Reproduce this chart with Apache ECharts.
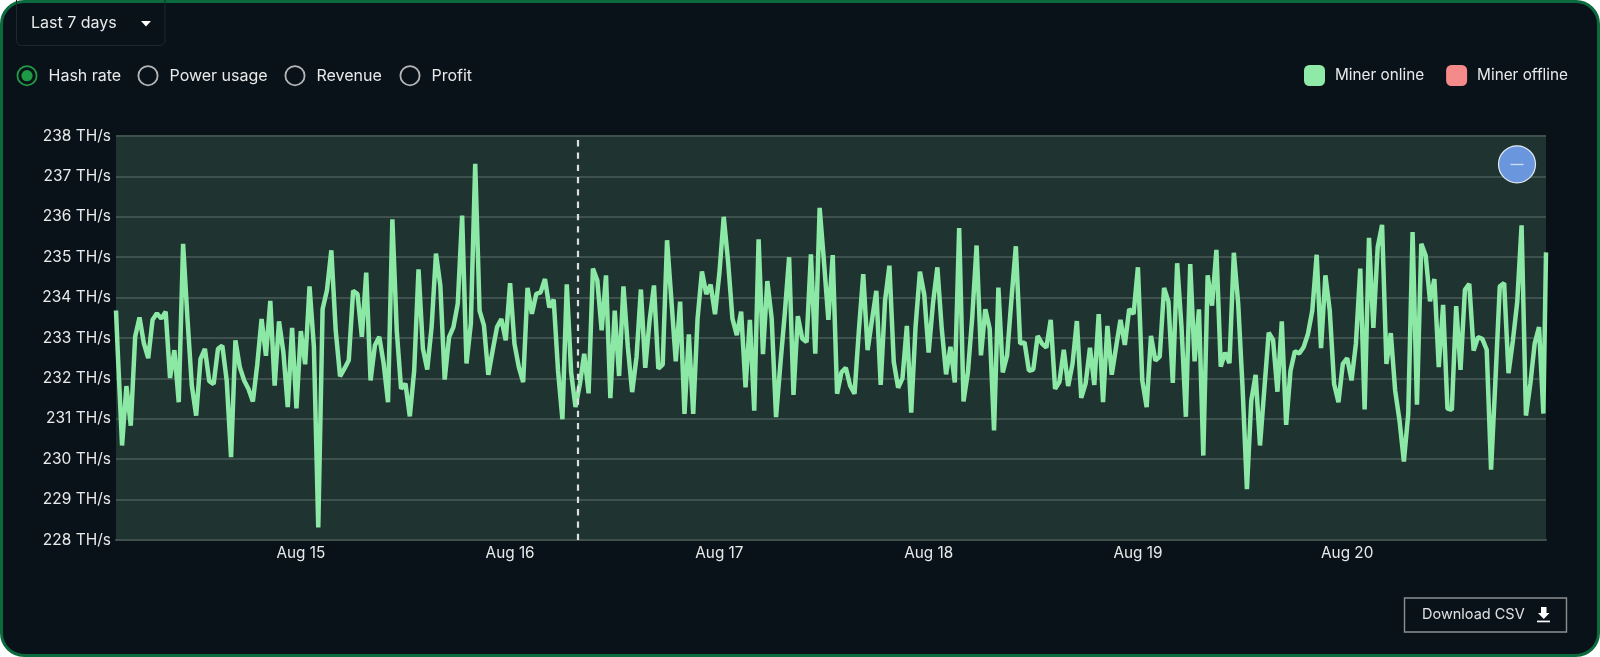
<!DOCTYPE html>
<html>
<head>
<meta charset="utf-8">
<title>Hash rate</title>
<script src="https://cdn.jsdelivr.net/npm/echarts@6/dist/echarts.min.js"></script>
<style>
html, body { margin: 0; padding: 0; background: #fff; }
#card { position: absolute; left: 0; top: 0; width: 1600px; height: 657px; box-sizing: border-box;
        background: #0a1219; border: 3px solid #0b6b3f; border-radius: 24px; }
#chart { position: absolute; left: 0; top: 0; width: 1600px; height: 657px; }
</style>
</head>
<body>
<div id="card"></div>
<div id="chart"></div>
<script>
// half-hourly hash rate readings, x axis counts half hours from the first one (Aug 14 02:30)
var hashRate = [
    233.68, 232.69, 230.34, 231.81, 230.83, 233.03, 233.51, 232.87, 232.50, 233.45,
    233.61, 233.48, 233.65, 232.01, 232.70, 231.41, 235.33, 233.48, 231.82, 231.08,
    232.48, 232.73, 231.93, 231.86, 232.73, 232.81, 231.95, 230.05, 232.94, 232.28,
    231.95, 231.74, 231.43, 232.33, 233.47, 232.56, 233.92, 231.82, 233.41, 232.65,
    231.29, 233.25, 231.26, 233.17, 232.35, 234.28, 232.78, 228.31, 233.72, 234.18,
    235.17, 233.19, 232.05, 232.24, 232.45, 234.17, 234.09, 233.03, 234.62, 231.95,
    232.82, 233.03, 232.37, 231.41, 235.94, 233.19, 231.74, 231.87, 231.06, 232.19,
    234.70, 232.74, 232.22, 233.27, 235.09, 234.30, 231.97, 233.02, 233.27, 233.85,
    236.03, 232.37, 233.35, 237.31, 233.68, 233.31, 232.09, 232.69, 233.27, 233.47,
    232.94, 234.36, 232.86, 232.28, 231.91, 234.24, 233.60, 234.09, 234.13, 234.46,
    233.76, 233.95, 232.19, 230.99, 234.33, 232.15, 231.29, 231.86, 232.61, 231.63,
    234.72, 234.43, 233.19, 234.55, 231.51, 233.68, 232.06, 234.28, 232.78, 231.66,
    232.53, 234.20, 232.26, 233.43, 234.30, 232.24, 232.34, 235.42, 233.93, 232.42,
    233.90, 231.12, 233.09, 231.12, 233.48, 234.65, 234.09, 234.32, 233.59, 234.60,
    236.00, 234.89, 233.48, 233.07, 233.65, 231.78, 233.45, 231.20, 235.44, 232.60,
    234.41, 233.48, 231.04, 232.36, 233.60, 235.00, 231.59, 233.54, 232.99, 232.90,
    235.07, 232.61, 236.22, 234.88, 233.45, 235.05, 231.62, 232.15, 232.26, 231.82,
    231.62, 233.19, 234.58, 232.70, 233.44, 234.17, 231.84, 233.92, 234.79, 232.41,
    231.77, 232.00, 233.30, 231.15, 233.28, 234.64, 234.07, 232.64, 233.86, 234.75,
    233.24, 232.10, 232.78, 231.90, 235.72, 231.43, 232.15, 233.51, 235.29, 232.57,
    233.71, 233.23, 230.71, 234.25, 232.15, 232.57, 233.97, 235.27, 232.86, 232.89,
    232.19, 232.22, 233.05, 232.86, 232.76, 233.45, 231.74, 231.91, 232.71, 231.81,
    232.36, 233.42, 231.52, 231.87, 232.76, 231.84, 233.59, 231.41, 233.30, 232.09,
    232.78, 233.45, 232.83, 233.72, 233.59, 234.75, 231.95, 231.29, 233.05, 232.44,
    232.54, 234.24, 233.90, 231.89, 234.85, 233.27, 231.05, 234.83, 232.42, 233.71,
    230.09, 234.55, 233.80, 235.18, 232.29, 232.64, 232.38, 235.11, 233.85, 231.78,
    229.26, 231.45, 232.09, 230.34, 231.74, 233.13, 232.95, 231.67, 233.41, 230.85,
    232.19, 232.67, 232.62, 232.77, 233.10, 233.68, 235.06, 232.75, 234.55, 233.68,
    231.86, 231.41, 232.36, 232.50, 231.95, 232.86, 234.72, 231.23, 235.48, 233.25,
    235.25, 235.80, 232.36, 233.12, 231.70, 230.96, 229.94, 231.12, 235.62, 231.35,
    235.33, 235.04, 233.91, 234.46, 232.28, 233.82, 231.25, 231.22, 233.79, 232.21,
    234.19, 234.34, 232.69, 233.02, 232.98, 232.71, 229.74, 231.95, 234.28, 234.36,
    232.13, 232.93, 233.89, 235.79, 231.08, 231.86, 232.86, 233.27, 231.13, 235.12
];
var dayLabels = ['Aug 15', 'Aug 16', 'Aug 17', 'Aug 18', 'Aug 19', 'Aug 20'];
var dayTicks = [43, 91, 139, 187, 235, 283];
var cursorAt = 106.5;
var xStart = 0.61;
var xEnd = 328.6;
var metrics = ['Hash rate', 'Power usage', 'Revenue', 'Profit'];
var metricX = [27, 148, 295, 410];

var fontName = 'Inter';
var textColor = '#e8eaea';

// first and last readings sit right on the plot edges
var lineData = hashRate.map(function (v, i) {
    return [Math.min(xEnd, Math.max(xStart, i)), v];
});

var myChart = echarts.init(document.getElementById('chart'), null, { renderer: 'canvas' });

// dropdown, radios, zoom button and the csv button are plain drawn shapes
var controls = [
    {
        type: 'rect', z: 10,
        shape: { x: 16.5, y: -6, width: 148.5, height: 51.5, r: 5 },
        style: { fill: 'transparent', stroke: '#1b2932', lineWidth: 1 }
    },
    {
        type: 'text', z: 10, x: 31, y: 23,
        style: { text: 'Last 7 days', fill: textColor, font: '16px ' + fontName, textVerticalAlign: 'middle' }
    },
    {
        type: 'polygon', z: 10,
        shape: { points: [[141, 21], [151, 21], [146, 26.5]] },
        style: { fill: '#fff' }
    },
    // zoom out button
    {
        type: 'circle', z: 10,
        shape: { cx: 1517, cy: 164.3, r: 18.5 },
        style: { fill: '#6a96dd', stroke: '#e4e9f2', lineWidth: 1.2 }
    },
    {
        type: 'line', z: 11,
        shape: { x1: 1510.5, y1: 164.5, x2: 1523.5, y2: 164.5 },
        style: { stroke: '#cfdff5', lineWidth: 1.3 }
    },
    // download button
    {
        type: 'rect', z: 10,
        shape: { x: 1404.5, y: 598, width: 162, height: 34 },
        style: { fill: 'transparent', stroke: '#8c9093', lineWidth: 1.4 }
    },
    {
        type: 'text', z: 10, x: 1422, y: 615,
        style: { text: 'Download CSV', fill: '#dfe1e2', font: '14.5px ' + fontName, textVerticalAlign: 'middle' }
    },
    {
        type: 'polygon', z: 10,
        shape: { points: [[1541, 607], [1546.5, 607], [1546.5, 613], [1549.5, 613], [1543.8, 619], [1538, 613], [1541, 613]] },
        style: { fill: '#fff' }
    },
    {
        type: 'rect', z: 10,
        shape: { x: 1537, y: 620.6, width: 13, height: 1.7 },
        style: { fill: '#fff' }
    }
];

metrics.forEach(function (name, i) {
    var selected = i === 0;
    controls.push({
        type: 'circle', z: 10,
        shape: { cx: metricX[i], cy: 75.7, r: 9.6 },
        style: { fill: 'transparent', stroke: selected ? '#1f9a45' : '#b3b5b6', lineWidth: 1.8 }
    });
    if (selected) {
        controls.push({
            type: 'circle', z: 10,
            shape: { cx: metricX[i], cy: 75.7, r: 5.6 },
            style: { fill: '#1f9a45' }
        });
    }
    controls.push({
        type: 'text', z: 10, x: metricX[i] + 21.5, y: 76,
        style: { text: name, fill: textColor, font: '16px ' + fontName, textVerticalAlign: 'middle' }
    });
});

var option = {
    animation: false,
    backgroundColor: 'transparent',
    textStyle: { fontFamily: fontName },
    grid: {
        left: 116,
        right: 54,
        top: 136,
        bottom: 117,
        show: true,
        backgroundColor: '#1f3331',
        borderWidth: 0
    },
    legend: {
        left: 1304,
        top: 65,
        padding: 0,
        itemWidth: 21,
        itemHeight: 21,
        itemGap: 22,
        selectedMode: false,
        textStyle: { color: textColor, fontSize: 15.3, fontFamily: fontName, padding: [0, 0, 0, 5] },
        data: [
            { name: 'Miner online', icon: 'roundRect', itemStyle: { color: '#8fe9a7' } },
            { name: 'Miner offline', icon: 'roundRect', itemStyle: { color: '#f58a8a' } }
        ]
    },
    xAxis: {
        type: 'value',
        min: xStart,
        max: xEnd,
        axisLine: { show: true, onZero: false, lineStyle: { color: '#3e514d', width: 2 } },
        axisTick: { show: false },
        splitLine: { show: false },
        axisLabel: {
            customValues: dayTicks,
            color: textColor,
            fontSize: 15.3,
            fontFamily: fontName,
            margin: 6,
            formatter: function (value) {
                return dayLabels[dayTicks.indexOf(value)];
            }
        }
    },
    yAxis: {
        type: 'value',
        min: 228,
        max: 238,
        interval: 1,
        axisLine: { show: false },
        axisTick: { show: false },
        splitLine: { lineStyle: { color: '#3e514d', width: 2 } },
        axisLabel: {
            color: textColor,
            fontSize: 15.5,
            fontFamily: fontName,
            margin: 5,
            formatter: '{value} TH/s'
        }
    },
    series: [
        {
            name: 'Miner online',
            type: 'line',
            data: lineData,
            showSymbol: false,
            clip: true,
            lineStyle: { color: '#8be8a5', width: 4.5, join: 'bevel' },
            itemStyle: { color: '#8be8a5' },
            markLine: {
                silent: true,
                symbol: 'none',
                label: { show: false },
                lineStyle: { color: '#dcdfdf', type: [6.3, 6], width: 2.2 },
                data: [{ xAxis: cursorAt }]
            }
        },
        {
            name: 'Miner offline',
            type: 'line',
            data: [],
            itemStyle: { color: '#f58a8a' }
        }
    ],
    graphic: controls
};

myChart.setOption(option);
</script>
</body>
</html>
